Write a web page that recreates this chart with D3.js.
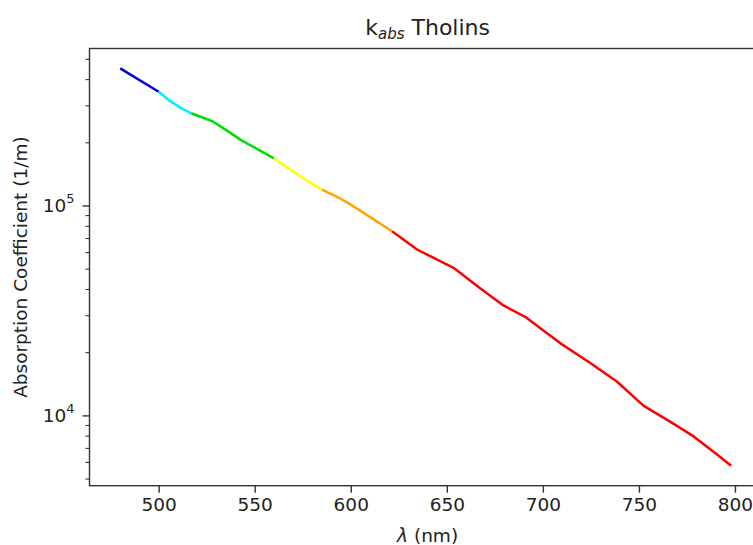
<!DOCTYPE html>
<html>
<head>
<meta charset="utf-8">
<script src="https://cdn.jsdelivr.net/npm/d3@7/dist/d3.min.js"></script>
<style>
  html, body { margin: 0; padding: 0; background: #fff; }
  svg { display: block; font-family: "DejaVu Sans", sans-serif; }
</style>
</head>
<body>
<svg id="chart" width="753" height="545"></svg>
<script>
// ---- data ----
const wavelengths = [480, 500, 506, 512, 517, 528, 536, 542.5, 560, 568.5, 575.5, 585, 594.5, 600, 621.5,
  634.5, 653.5, 667.5, 679.5, 691.5, 698.5, 709, 724.5, 738.5, 752.5, 766, 778.5, 788, 798];
const absorption = [4.50e5, 3.48e5, 3.14e5, 2.90e5, 2.75e5, 2.52e5, 2.26e5, 2.06e5, 1.675e5, 1.485e5, 1.345e5,
  1.19e5, 1.08e5, 1.01e5, 7.54e4, 6.17e4, 5.05e4, 4.02e4, 3.34e4, 2.92e4, 2.61e4, 2.21e4, 1.78e4, 1.45e4,
  1.11e4, 9.36e3, 7.94e3, 6.80e3, 5.75e3];
const bandEdges = [480, 500, 517, 560, 585, 621.5, 798];
const bandColors = ["#0000d8", "#00f0ff", "#00dd00", "#ffff00", "#ffa500", "#ff0000"];
const xTicks = [500, 550, 600, 650, 700, 750, 800];
const yMajorTicks = [1e4, 1e5];
const xLimits = [464, 816];

(function () {
// ---- layout ----
const pL = 89.5, pR = 765.7, pT = 48.5, pB = 485.7;
const svg = d3.select("#chart");

const x = d3.scaleLinear().domain(xLimits).range([pL, pR]);
const lmin = Math.log10(d3.min(absorption)), lmax = Math.log10(d3.max(absorption));
const pad = (lmax - lmin) * 0.05;
const y = d3.scaleLog().domain([Math.pow(10, lmin - pad), Math.pow(10, lmax + pad)]).range([pB, pT]);

const pts = wavelengths.map((w, i) => ({w, v: absorption[i]}));
const line = d3.line().x(d => x(d.w)).y(d => y(d.v));

svg.append("clipPath").attr("id", "clip").append("rect")
  .attr("x", pL).attr("y", pT).attr("width", pR - pL).attr("height", pB - pT);

const g = svg.append("g").attr("clip-path", "url(#clip)");
bandColors.forEach((c, i) => {
  const seg = pts.filter(p => p.w >= bandEdges[i] && p.w <= bandEdges[i + 1]);
  g.append("path").attr("d", line(seg)).attr("fill", "none")
    .attr("stroke", c).attr("stroke-width", 2.5).attr("stroke-linejoin", "round");
});

// ---- axes ----
const axisColor = "#333";
const fs = 18.5;

const xAxis = svg.append("g").attr("transform", `translate(0,${pB})`)
  .call(d3.axisBottom(x).tickValues(xTicks).tickSize(7).tickPadding(5).tickFormat(d3.format("d")));
xAxis.select(".domain").remove();
xAxis.selectAll("line").attr("stroke", axisColor).attr("stroke-width", 1.4);
xAxis.selectAll("text").attr("font-size", fs).attr("fill", "#222").attr("font-family", "DejaVu Sans");

// minor y ticks
const [d0, d1] = y.domain();
const minor = [];
for (let e = Math.floor(Math.log10(d0)); e <= Math.ceil(Math.log10(d1)); e++) {
  for (let m = 2; m <= 9; m++) {
    const v = m * Math.pow(10, e);
    if (v >= d0 && v <= d1) minor.push(v);
  }
}
const yMinor = svg.append("g").attr("transform", `translate(${pL},0)`)
  .call(d3.axisLeft(y).tickValues(minor).tickSize(4).tickFormat(""));
yMinor.select(".domain").remove();
yMinor.selectAll("line").attr("stroke", axisColor).attr("stroke-width", 1.1);

const yAxis = svg.append("g").attr("transform", `translate(${pL},0)`)
  .call(d3.axisLeft(y).tickValues(yMajorTicks).tickSize(7).tickPadding(8).tickFormat(""));
yAxis.select(".domain").remove();
yAxis.selectAll("line").attr("stroke", axisColor).attr("stroke-width", 1.4);
yAxis.selectAll(".tick").each(function(d) {
  const t = d3.select(this).select("text")
    .attr("font-size", fs).attr("fill", "#222").attr("font-family", "DejaVu Sans")
    .attr("dy", "0.35em");
  t.text(null);
  t.append("tspan").text("10");
  t.append("tspan").attr("font-size", fs * 0.7).attr("dy", "-0.75em").text(Math.round(Math.log10(d)));
});

// spines
svg.append("rect").attr("x", pL).attr("y", pT).attr("width", pR - pL).attr("height", pB - pT)
  .attr("fill", "none").attr("stroke", axisColor).attr("stroke-width", 1.4);

// labels
svg.append("text").attr("x", (pL + pR) / 2).attr("y", 542).attr("text-anchor", "middle")
  .attr("font-size", fs).attr("fill", "#222")
  .call(t => {
    t.append("tspan").attr("font-style", "italic").text("λ");
    t.append("tspan").text(" (nm)");
  });

svg.append("text").attr("transform", `translate(27,${(pT + pB) / 2}) rotate(-90)`)
  .attr("text-anchor", "middle").attr("font-size", fs).attr("fill", "#222")
  .text("Absorption Coefficient (1/m)");

svg.append("text").attr("x", (pL + pR) / 2).attr("y", 35).attr("text-anchor", "middle")
  .attr("font-size", 22).attr("fill", "#222")
  .call(t => {
    t.append("tspan").text("k");
    t.append("tspan").attr("font-style", "italic").attr("font-size", 15).attr("dy", 4).text("abs");
    t.append("tspan").attr("dy", -4).text(" Tholins");
  });
})();
</script>
</body>
</html>
